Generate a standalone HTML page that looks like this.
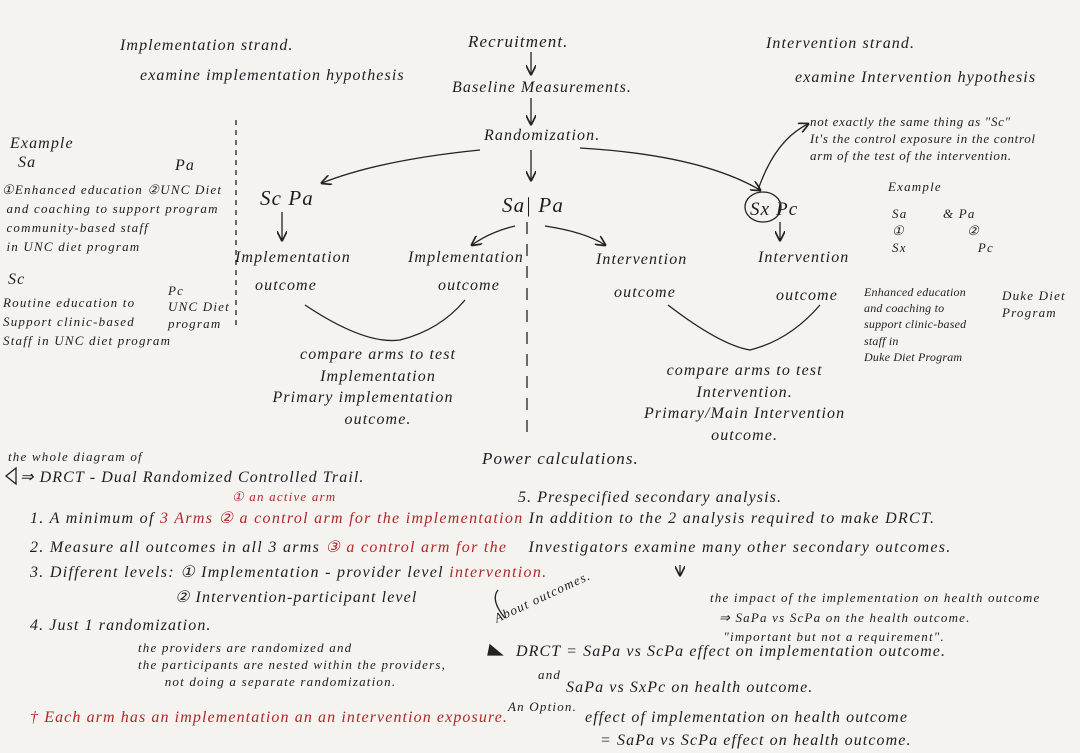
<!DOCTYPE html>
<html><head><meta charset="utf-8"><style>
body{margin:0;width:1080px;height:753px;background:#f4f3f0;overflow:hidden;position:relative;font-family:"Liberation Serif",serif;font-style:italic;color:#1d1d22}
.t{position:absolute;white-space:nowrap;font-size:16px;line-height:1;letter-spacing:1.1px}
.s{font-size:13px;letter-spacing:1.2px}
.n{letter-spacing:0.2px}
.r{color:#b0282a}
svg{position:absolute;left:0;top:0}
</style></head><body>
<svg width="1080" height="753" fill="none" stroke="#222" stroke-width="1.3">
<defs><marker id="a" markerWidth="8" markerHeight="8" refX="7" refY="4" orient="auto"><path d="M0,0 L8,4 L0,8" stroke="#222"/></marker></defs>
<line x1="531" y1="52" x2="531" y2="74" marker-end="url(#a)"/>
<line x1="531" y1="98" x2="531" y2="124" marker-end="url(#a)"/>
<path d="M480 150 Q380 160 322 183" marker-end="url(#a)"/>
<line x1="531" y1="150" x2="531" y2="180" marker-end="url(#a)"/>
<path d="M580 148 Q700 155 760 190" marker-end="url(#a)"/>
<line x1="282" y1="212" x2="282" y2="240" marker-end="url(#a)"/>
<path d="M515 226 Q490 232 472 245" marker-end="url(#a)"/>
<path d="M545 226 Q585 232 605 245" marker-end="url(#a)"/>
<line x1="780" y1="222" x2="780" y2="240" marker-end="url(#a)"/>
<line x1="527" y1="222" x2="527" y2="440" stroke-dasharray="12 10"/>
<line x1="236" y1="120" x2="236" y2="330" stroke-dasharray="5 5"/>
<path d="M305 305 Q365 345 400 340 Q440 330 465 300"/>
<path d="M668 305 Q720 345 750 350 Q790 340 820 305"/>
<ellipse cx="763" cy="207" rx="18" ry="15"/>
<path d="M758 190 Q775 140 808 124" marker-end="url(#a)"/>
<path d="M505 618 Q490 600 498 590" />
<path d="M490 645 L502 655 L488 655Z" fill="#222"/>
<path d="M6 476 L16 468 L16 484Z"/>
<line x1="680" y1="565" x2="680" y2="575" marker-end="url(#a)"/>
</svg>
<div class="t" style="left:120px;top:38px">Implementation strand.</div>
<div class="t" style="left:140px;top:68px">examine implementation hypothesis</div>
<div class="t" style="left:468px;top:33px;font-size:17px">Recruitment.</div>
<div class="t" style="left:452px;top:80px;font-size:16px">Baseline Measurements.</div>
<div class="t" style="left:484px;top:128px;font-size:16px">Randomization.</div>
<div class="t" style="left:766px;top:36px">Intervention strand.</div>
<div class="t" style="left:795px;top:70px">examine Intervention hypothesis</div>
<div class="t s" style="left:810px;top:114px;line-height:1.3;letter-spacing:0.7px">not exactly the same thing as "Sc"<br>It's the control exposure in the control<br>arm of the test of the intervention.</div>
<div class="t s" style="left:888px;top:180px">Example</div>
<div class="t" style="left:10px;top:136px">Example</div>
<div class="t" style="left:18px;top:155px">Sa</div>
<div class="t" style="left:175px;top:158px">Pa</div>
<div class="t s" style="left:2px;top:181px;line-height:1.45">①Enhanced education ②UNC Diet<br>&nbsp;and coaching to support program<br>&nbsp;community-based staff<br>&nbsp;in UNC diet program</div>
<div class="t" style="left:8px;top:272px">Sc</div>
<div class="t s" style="left:168px;top:283px;line-height:1.25">Pc<br>UNC Diet<br>program</div>
<div class="t s" style="left:3px;top:294px;line-height:1.45">Routine education to<br>Support clinic-based<br>Staff in UNC diet program</div>
<div class="t" style="left:260px;top:188px;font-size:21px">Sc Pa</div>
<div class="t" style="left:502px;top:195px;font-size:21px">Sa| Pa</div>
<div class="t" style="left:750px;top:200px;font-size:19px">Sx Pc</div>
<div class="t" style="left:235px;top:250px">Implementation</div>
<div class="t" style="left:255px;top:278px">outcome</div>
<div class="t" style="left:408px;top:250px">Implementation</div>
<div class="t" style="left:438px;top:278px">outcome</div>
<div class="t" style="left:596px;top:252px">Intervention</div>
<div class="t" style="left:614px;top:285px">outcome</div>
<div class="t" style="left:758px;top:250px">Intervention</div>
<div class="t" style="left:776px;top:288px">outcome</div>
<div class="t s" style="left:892px;top:206px;line-height:1.3">Sa&nbsp;&nbsp;&nbsp;&nbsp;&nbsp;&nbsp;&nbsp;&nbsp;&amp; Pa<br>①&nbsp;&nbsp;&nbsp;&nbsp;&nbsp;&nbsp;&nbsp;&nbsp;&nbsp;&nbsp;&nbsp;&nbsp;&nbsp;&nbsp;②<br>Sx&nbsp;&nbsp;&nbsp;&nbsp;&nbsp;&nbsp;&nbsp;&nbsp;&nbsp;&nbsp;&nbsp;&nbsp;&nbsp;&nbsp;&nbsp;&nbsp;Pc</div>
<div class="t s n" style="left:864px;top:284px;line-height:1.35;font-size:12px">Enhanced education<br>and coaching to<br>support clinic-based<br>staff in<br>Duke Diet Program</div>
<div class="t s" style="left:1002px;top:288px;line-height:1.3">Duke Diet<br>Program</div>
<div class="t" style="left:300px;top:344px;line-height:1.35;text-align:center">compare arms to test<br>Implementation<br><span style="margin-left:-30px">Primary implementation</span><br>outcome.</div>
<div class="t" style="left:644px;top:360px;line-height:1.35;text-align:center">compare arms to test<br>Intervention.<br>Primary/Main Intervention<br>outcome.</div>
<div class="t s" style="left:8px;top:450px">the whole diagram of</div>
<div class="t" style="left:20px;top:470px">⇒ DRCT - Dual Randomized Controlled Trail.</div>
<div class="t" style="left:482px;top:450px;font-size:17px">Power calculations.</div>
<div class="t s r" style="left:232px;top:490px">① an active arm</div>
<div class="t" style="left:518px;top:490px">5. Prespecified secondary analysis.</div>
<div class="t" style="left:30px;top:511px;letter-spacing:1.3px">1. A minimum of <span class="r">3 Arms ② a control arm for the implementation</span> In addition to the 2 analysis required to make DRCT.</div>
<div class="t" style="left:30px;top:540px;letter-spacing:1.3px">2. Measure all outcomes in all 3 arms <span class="r">③ a control arm for the</span>&nbsp;&nbsp;&nbsp; Investigators examine many other secondary outcomes.</div>
<div class="t" style="left:30px;top:565px;letter-spacing:1.3px">3. Different levels: ① Implementation - provider level <span class="r">intervention.</span></div>
<div class="t" style="left:175px;top:590px">② Intervention-participant level</div>
<div class="t s" style="left:710px;top:588px;line-height:1.5">the impact of the implementation on health outcome<br>&nbsp;&nbsp;⇒ SaPa vs ScPa on the health outcome.<br>&nbsp;&nbsp;&nbsp;"important but not a requirement".</div>
<div class="t s" style="left:490px;top:590px;transform:rotate(-25deg)">About outcomes.</div>
<div class="t" style="left:30px;top:618px">4. Just 1 randomization.</div>
<div class="t s" style="left:138px;top:640px;line-height:1.3">the providers are randomized and<br>the participants are nested within the providers,<br>&nbsp;&nbsp;&nbsp;&nbsp;&nbsp;&nbsp;not doing a separate randomization.</div>
<div class="t" style="left:516px;top:644px">DRCT = SaPa vs ScPa effect on implementation outcome.</div>
<div class="t s" style="left:538px;top:668px">and</div>
<div class="t" style="left:566px;top:680px">SaPa vs SxPc on health outcome.</div>
<div class="t s" style="left:508px;top:700px">An Option.</div>
<div class="t" style="left:585px;top:710px">effect of implementation on health outcome</div>
<div class="t" style="left:600px;top:733px">= SaPa vs ScPa effect on health outcome.</div>
<div class="t r" style="left:30px;top:710px">† Each arm has an implementation an an intervention exposure.</div>
</body></html>
